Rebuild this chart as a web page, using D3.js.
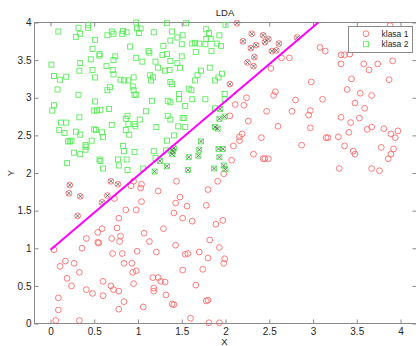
<!DOCTYPE html>
<html>
<head>
<meta charset="utf-8">
<script src="https://cdn.jsdelivr.net/npm/d3@7"></script>
<style>
body{margin:0;background:#fff;}
#main_div{width:416px;height:346px;}
text{font-family:"Liberation Sans",Arial,sans-serif;fill:#262626;}
</style>
</head>
<body>
<div id="main_div"></div>
<script>
/** klasa 1 (red circles) [x,y] */
let klasa1=[
[0.22,1.84],[0.21,1.73],[0.34,1.69],[0.31,1.43],[0.69,1.89],[0.77,1.85],[0.65,1.70],[0.59,1.61],[0.73,1.66],
[0.04,0.98],[0.36,1.00],[0.41,1.13],[0.54,1.21],[0.59,1.26],[0.54,1.08],[0.55,1.07],[0.70,1.13],[0.76,1.27],
[0.78,1.40],[0.80,1.16],[0.79,1.09],[0.86,1.51],[0.92,1.83],[0.95,1.89],[1.03,1.80],[1.04,1.85],[0.98,1.51],
[1.04,1.62],[1.07,1.20],[1.13,1.09],[1.29,1.26],[1.23,1.76],[1.44,1.89],[1.48,1.68],[1.43,1.60],[1.41,1.47],
[1.51,1.40],[1.56,1.56],[1.62,1.36],[1.78,1.57],[1.80,1.78],[1.82,1.11],
[0.17,0.83],[0.27,0.80],[0.11,0.76],[0.33,0.68],[0.19,0.60],[0.24,0.50],[0.60,0.56],[0.41,0.45],[0.48,0.40],
[0.60,0.37],[0.69,0.50],[0.72,0.45],[0.78,0.43],[0.71,0.93],[0.82,0.93],[0.84,0.80],[0.93,0.80],[0.94,0.68],
[0.98,0.70],[0.99,0.96],[0.95,0.53],[0.84,0.29],[0.78,0.19],[0.09,0.34],[0.09,0.18],[0.06,0.04],[0.33,0.04],
[1.06,0.22],[1.17,0.61],[1.18,0.47],[1.18,0.43],[1.21,0.95],[1.23,0.61],[1.26,0.56],[1.31,0.55],[1.32,0.38],
[1.39,0.26],[1.41,0.25],[1.43,1.04],[1.51,0.71],[1.54,0.92],[1.57,0.93],[1.66,0.51],[1.70,0.95],[1.74,0.72],
[1.78,0.30],[1.80,0.31],[1.80,0.87],[1.60,0.07],[1.81,0.01],
[1.98,1.99],[1.91,1.89],[1.89,1.32],[1.97,1.37],[1.93,1.01],[1.99,0.86],[1.98,0.80],[1.93,0.01],
[2.13,3.99],[2.30,3.85],[2.20,3.75],[2.29,3.66],[2.35,3.70],[2.43,3.83],[2.49,3.78],[2.45,3.74],[2.61,3.72],
[2.53,3.62],[2.58,3.63],[2.33,3.54],[2.25,3.47],[2.32,3.42],[2.82,3.80],[2.05,3.18],
[2.64,3.53],[2.73,3.53],[3.08,3.67],[3.14,3.62],[3.32,3.57],[3.36,3.57],[3.42,3.58],[3.32,3.45],[3.88,3.96],
[3.58,3.45],[3.64,3.37],[3.74,3.45],[3.91,3.49],[2.52,3.39],[2.98,3.21],[3.44,3.25],[3.87,3.24],[2.57,3.08],
[2.55,3.03],[2.80,2.97],[3.11,2.98],[3.39,3.11],[3.54,3.06],[3.67,3.03],[3.48,2.93],[2.24,3.00],[2.11,2.91],
[2.21,2.90],[2.05,2.76],[2.47,2.82],[2.76,2.82],[2.97,2.83],[2.95,2.77],[3.32,2.74],[3.53,2.73],[3.59,2.86],
[3.43,2.67],[2.26,2.69],[2.60,2.62],[2.97,2.60],[3.15,2.47],[3.17,2.47],[3.29,2.48],[3.41,2.54],[3.62,2.58],
[3.67,2.61],[3.81,2.59],[3.89,2.52],[3.94,2.47],[3.97,2.56],[2.19,2.52],[2.16,2.48],[2.16,2.43],[2.41,2.47],
[2.09,2.36],[2.32,2.25],[2.43,2.19],[2.45,2.19],[2.49,2.19],[2.87,2.37],[3.36,2.36],[3.46,2.29],[3.48,2.25],
[3.78,2.34],[3.92,2.32],[3.89,2.25],[3.86,2.19],[2.07,2.17],[3.30,2.06],[3.67,2.06],[3.76,2.03]
];

/** klasa 2 (green squares) [x,y] */
let klasa2=[
[0.09,3.88],[0.32,3.93],[0.34,3.85],[0.29,3.81],[0.43,3.97],[0.43,3.93],[0.51,3.77],[0.65,3.83],[0.70,3.88],
[0.72,3.85],[0.82,3.85],[0.83,3.89],[0.87,3.87],[0.98,4.00],[0.99,3.92],[1.03,3.92],[1.01,3.86],[1.18,3.87],
[1.33,3.99],[1.39,3.88],[1.45,3.80],[1.51,3.83],[1.55,3.99],
[0.48,3.65],[0.91,3.68],[1.12,3.62],[1.13,3.60],[1.29,3.69],[1.37,3.76],[1.50,3.71],[1.62,3.72],[1.65,3.73],
[1.70,3.72],[0.56,3.58],[0.56,3.56],[0.46,3.51],[0.34,3.46],[0.01,3.44],[0.74,3.55],[0.72,3.50],[0.98,3.53],
[1.05,3.48],[1.20,3.48],[1.28,3.57],[1.33,3.58],[1.37,3.49],[1.45,3.46],[1.50,3.55],[1.66,3.61],
[0.04,3.29],[0.11,3.24],[0.18,3.28],[0.33,3.36],[0.48,3.37],[0.51,3.27],[0.64,3.42],[0.71,3.37],[0.72,3.31],
[0.80,3.24],[0.84,3.23],[0.89,3.23],[0.95,3.27],[0.94,3.15],[0.95,3.10],[0.96,3.04],[0.98,3.04],[1.14,3.30],
[1.17,3.27],[1.15,3.23],[1.16,2.96],[1.23,3.40],[1.31,3.36],[1.37,3.21],[1.39,3.18],[1.36,3.37],[1.48,3.40],
[1.58,3.12],[1.68,3.30],[1.65,3.23],[1.72,3.36],
[0.08,3.11],[0.32,3.04],[0.51,2.95],[0.50,2.83],[0.53,2.83],[0.57,2.84],[0.33,2.74],[0.02,2.83],[0.04,2.90],
[0.12,2.67],[0.18,2.67],[0.67,2.85],[0.86,2.72],[0.88,2.76],[0.89,2.65],[0.96,2.65],[0.97,2.62],[1.02,2.71],
[1.09,2.82],[1.21,2.61],[1.34,2.96],[1.37,2.94],[1.34,2.76],[1.37,2.71],[1.41,2.50],[1.46,2.62],[1.51,2.73],
[1.53,2.73],[1.54,2.89],[1.62,2.98],[1.77,2.98],
[0.10,2.57],[0.16,2.53],[0.20,2.42],[0.22,2.42],[0.24,2.43],[0.29,2.55],[0.34,2.51],[0.27,2.27],[0.34,2.25],
[0.40,2.37],[0.41,2.35],[0.40,2.31],[0.47,2.43],[0.50,2.58],[0.52,2.57],[0.59,2.54],[0.60,2.48],[0.70,2.64],
[0.83,2.36],[0.84,2.29],[0.90,2.51],[0.86,2.57],[0.96,2.28],[0.56,2.18],[0.57,2.16],[0.60,2.06],[0.77,2.18],
[0.78,2.10],[0.88,2.04],[0.87,2.18],[0.19,2.13],[1.06,2.06],[1.18,2.29],[1.20,2.20],[1.32,2.30],[1.33,2.43],
[0.65,3.10],[0.68,3.14],[1.54,2.61],[1.47,2.98],[1.47,3.05],[1.61,3.10],[2.00,3.97],
[1.78,3.91],[1.81,3.86],[1.77,3.71],[1.78,3.78],[1.83,3.78],[1.90,3.72],[1.95,3.69],[1.93,3.83],[1.84,3.62],
[1.82,3.40],[1.96,3.32],[1.92,3.27],[1.88,3.23],[1.99,3.05],[1.99,2.98],[1.88,2.86],
[1.19,2.02],[1.25,2.16],[1.33,2.09],[1.39,2.25],[1.40,2.29],[1.41,2.33],[1.57,2.04],[1.58,2.21],[1.69,2.23],
[1.70,2.31],[1.72,2.42],[1.87,2.06],[1.88,2.61],[1.91,2.59],[1.92,2.32],[1.97,2.32],[1.93,2.21],[1.93,2.72],
[1.99,2.75],[1.94,2.85],[1.98,2.10],[2.00,2.05]
];

/** LDA decision line, end points */
let lineX=[0,3.06];
let lineY=[0.98,4.0];

let xTicks=[0,0.5,1,1.5,2,2.5,3,3.5,4];
let yTicks=[0,0.5,1,1.5,2,2.5,3,3.5,4];
let legendLabels=["klasa 1","klasa 2"];
let titleText="LDA";
let xLabel="X";
let yLabel="Y";

let xScale,yScale;
let size=[416,346];
let box={left:34.5,right:416.5,top:22.5,bottom:323.5};
let red="#ff6464";
let green="#52ec52";
let axisGray="#8a8a8a";

render();

function render(){
    createSVG();
    drawAxes();
    drawDataPoints();
    drawLine();
    drawLegend();
}

function createSVG(){
    d3.select("#main_div")
    .append("svg")
    .attr("width",size[0])
    .attr("height",size[1])
    .attr("id","main_svg");
}

function drawAxes(){
    /**specify scale**/
    xScale=d3.scaleLinear()
        .domain([0,4])
        .range([50.5,400.5]);

    yScale=d3.scaleLinear()
        .domain([0,4])
        .range([box.bottom,box.top]);

    let svg=d3.select("#main_svg");

    svg.append("rect")
        .attr("x",box.left)
        .attr("y",box.top)
        .attr("width",box.right-box.left)
        .attr("height",box.bottom-box.top)
        .attr("fill","none")
        .attr("stroke",axisGray)
        .attr("stroke-width",1);

    /**create axis objects, ticks point inward */
    let fmt=function(d){return String(d);};
    let xBottom=d3.axisBottom(xScale).tickValues(xTicks).tickSizeInner(-4).tickSizeOuter(0).tickPadding(4).tickFormat(fmt);
    let xTop=d3.axisTop(xScale).tickValues(xTicks).tickSizeInner(-4).tickSizeOuter(0).tickFormat("");
    let yLeft=d3.axisLeft(yScale).tickValues(yTicks).tickSizeInner(-4).tickSizeOuter(0).tickPadding(3).tickFormat(fmt);
    let yRight=d3.axisRight(yScale).tickValues(yTicks).tickSizeInner(-4).tickSizeOuter(0).tickFormat("");

    let axes=[
        [xBottom,"translate(0,"+box.bottom+")"],
        [xTop,"translate(0,"+box.top+")"],
        [yLeft,"translate("+box.left+",0)"],
        [yRight,"translate("+box.right+",0)"]
    ];
    axes.forEach(function(a){
        let g=svg.append("g")
            .attr("class","axis")
            .attr("transform",a[1])
            .call(a[0]);
        g.select(".domain").remove();
        g.selectAll(".tick line").attr("stroke",axisGray);
        g.selectAll(".tick text")
            .attr("fill","#262626")
            .style("font-size","10px")
            .style("font-family","'Liberation Sans',Arial,sans-serif");
    });

    /**title and axis labels */
    svg.append("text")
        .text(titleText)
        .attr("x",(box.left+box.right)/2-0.5)
        .attr("y",15.7)
        .attr("text-anchor","middle")
        .style("font-size","9.5px");

    svg.append("text")
        .text(xLabel)
        .attr("x",224.5)
        .attr("y",345)
        .attr("text-anchor","middle")
        .style("font-size","9.5px");

    svg.append("text")
        .text(yLabel)
        .attr("transform","translate(14,"+((box.top+box.bottom)/2)+") rotate(-90)")
        .attr("text-anchor","middle")
        .style("font-size","9.5px");
}

function boundary(x){
    return lineY[0]+(x-lineX[0])*(lineY[1]-lineY[0])/(lineX[1]-lineX[0]);
}

function drawDataPoints(){
    let plot=d3.select("#main_svg")
        .append("g")
        .attr("id","plots");

    plot.selectAll("circle.k1")
        .data(klasa1)
        .enter()
        .append("circle")
        .attr("class","k1")
        .attr("cx",function(d){return xScale(d[0]);})
        .attr("cy",function(d){return yScale(d[1]);})
        .attr("r",2.9)
        .attr("fill","none")
        .attr("stroke",red)
        .attr("stroke-width",0.85);

    plot.selectAll("rect.k2")
        .data(klasa2)
        .enter()
        .append("rect")
        .attr("class","k2")
        .attr("x",function(d){return xScale(d[0])-2.5;})
        .attr("y",function(d){return yScale(d[1])-2.5;})
        .attr("width",5)
        .attr("height",5)
        .attr("fill","none")
        .attr("stroke",green)
        .attr("stroke-width",0.85);

    /**mark misclassified points with x */
    let wrong=klasa1.filter(function(d){return d[1]>boundary(d[0]);})
        .concat(klasa2.filter(function(d){return d[1]<boundary(d[0]);}));

    plot.selectAll("path.miss")
        .data(wrong)
        .enter()
        .append("path")
        .attr("class","miss")
        .attr("d","M-2,-2L2,2M-2,2L2,-2")
        .attr("transform",function(d){return "translate("+xScale(d[0])+","+yScale(d[1])+")";})
        .attr("fill","none")
        .attr("stroke","#505050")
        .attr("stroke-width",0.75);
}

function drawLine(){
    let pts=lineX.map(function(x,i){return [x,lineY[i]];});
    d3.select("#main_svg")
        .append("path")
        .datum(pts)
        .attr("d",d3.line().x(function(d){return xScale(d[0]);}).y(function(d){return yScale(d[1]);}))
        .attr("fill","none")
        .attr("stroke","#ff00ff")
        .attr("stroke-width",2);
}

function drawLegend(){
    let svg=d3.select("#main_svg");
    let lg=svg.append("g").attr("id","legend");

    lg.append("rect")
        .attr("x",348.5)
        .attr("y",26.5)
        .attr("width",64)
        .attr("height",26)
        .attr("fill","#fff")
        .attr("stroke",axisGray)
        .attr("stroke-width",1);

    lg.append("circle")
        .attr("cx",366)
        .attr("cy",33.7)
        .attr("r",2.9)
        .attr("fill","none")
        .attr("stroke",red)
        .attr("stroke-width",0.85);

    lg.append("rect")
        .attr("x",363.5)
        .attr("y",41.8)
        .attr("width",5)
        .attr("height",5)
        .attr("fill","none")
        .attr("stroke",green)
        .attr("stroke-width",0.85);

    lg.selectAll("text")
        .data(legendLabels)
        .enter()
        .append("text")
        .text(function(d){return d;})
        .attr("x",381.5)
        .attr("y",function(d,i){return 36.8+i*10.6;})
        .style("font-size","8.5px");
}
</script>
</body>
</html>
